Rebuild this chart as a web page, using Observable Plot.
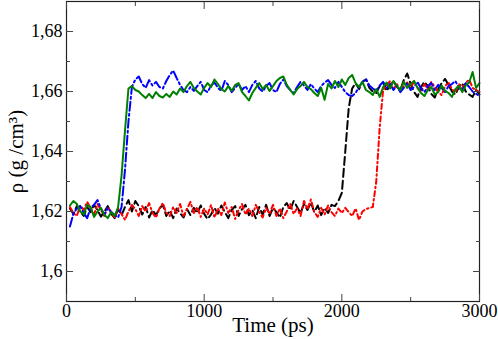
<!DOCTYPE html>
<html>
<head>
<meta charset="utf-8">
<script src="https://cdn.jsdelivr.net/npm/d3@7"></script>
<script src="https://cdn.jsdelivr.net/npm/@observablehq/plot@0.6"></script>
<style>
  html, body { margin: 0; padding: 0; background: white; }
</style>
</head>
<body>
<div id="chart"></div>
<script>
// Time axis sampling (ps)
const time = d3.range(25, 3001, 25);

const blackSeries = [
1.6210,1.6192,1.6218,1.6200,1.6185,1.6215,1.6198,1.6222,1.6205,1.6183,
1.6200,1.6218,1.6192,1.6178,1.6208,1.6188,1.6215,1.6238,1.6200,1.6235,
1.6218,1.6190,1.6215,1.6180,1.6205,1.6188,1.6210,1.6222,1.6185,1.6203,
1.6178,1.6210,1.6195,1.6180,1.6208,1.6188,1.6212,1.6195,1.6220,1.6192,
1.6175,1.6190,1.6212,1.6193,1.6220,1.6198,1.6178,1.6205,1.6218,1.6185,
1.6208,1.6222,1.6188,1.6205,1.6178,1.6215,1.6190,1.6222,1.6185,1.6212,
1.6198,1.6180,1.6215,1.6228,1.6205,1.6235,1.6215,1.6195,1.6225,1.6205,
1.6230,1.6198,1.6220,1.6188,1.6212,1.6195,1.6222,1.6218,1.6235,1.6262,
1.6400,1.6545,1.6610,1.6628,1.6608,1.6632,1.6640,1.6612,1.6600,1.6595,
1.6618,1.6630,1.6602,1.6620,1.6635,1.6615,1.6605,1.6638,1.6660,1.6625,
1.6598,1.6582,1.6615,1.6632,1.6618,1.6592,1.6580,1.6608,1.6628,1.6642,
1.6622,1.6600,1.6590,1.6615,1.6628,1.6600,1.6590,1.6582,1.6605,1.6590];

const redSeries = [
1.6215,1.6195,1.6185,1.6220,1.6205,1.6232,1.6212,1.6190,1.6225,1.6205,
1.6185,1.6215,1.6198,1.6178,1.6210,1.6192,1.6172,1.6200,1.6222,1.6208,
1.6185,1.6218,1.6200,1.6228,1.6195,1.6180,1.6210,1.6228,1.6195,1.6185,
1.6215,1.6195,1.6225,1.6185,1.6208,1.6232,1.6195,1.6215,1.6182,1.6210,
1.6190,1.6222,1.6180,1.6210,1.6188,1.6230,1.6195,1.6215,1.6175,1.6205,
1.6225,1.6190,1.6210,1.6185,1.6222,1.6198,1.6180,1.6212,1.6192,1.6222,
1.6185,1.6210,1.6178,1.6200,1.6225,1.6192,1.6210,1.6185,1.6235,1.6208,
1.6240,1.6198,1.6182,1.6212,1.6190,1.6220,1.6198,1.6185,1.6210,1.6195,
1.6212,1.6198,1.6185,1.6210,1.6172,1.6200,1.6208,1.6212,1.6215,1.6300,
1.6480,1.6605,1.6620,1.6635,1.6608,1.6625,1.6600,1.6618,1.6630,1.6610,
1.6635,1.6612,1.6598,1.6625,1.6605,1.6632,1.6615,1.6598,1.6588,1.6618,
1.6630,1.6608,1.6598,1.6625,1.6612,1.6628,1.6640,1.6612,1.6605,1.6598];

const blueSeries = [
1.6150,1.6192,1.6210,1.6218,1.6195,1.6178,1.6212,1.6222,1.6238,1.6210,
1.6190,1.6212,1.6198,1.6188,1.6180,1.6215,1.6340,1.6500,1.6615,1.6640,
1.6650,1.6625,1.6612,1.6638,1.6620,1.6632,1.6615,1.6610,1.6635,1.6655,
1.6670,1.6645,1.6622,1.6605,1.6598,1.6615,1.6602,1.6618,1.6632,1.6605,
1.6598,1.6620,1.6630,1.6612,1.6602,1.6635,1.6622,1.6598,1.6612,1.6625,
1.6605,1.6618,1.6598,1.6622,1.6635,1.6610,1.6600,1.6618,1.6628,1.6605,
1.6598,1.6625,1.6640,1.6618,1.6605,1.6595,1.6615,1.6632,1.6620,1.6605,
1.6625,1.6610,1.6598,1.6618,1.6630,1.6638,1.6622,1.6612,1.6632,1.6615,
1.6598,1.6588,1.6585,1.6595,1.6615,1.6632,1.6642,1.6620,1.6610,1.6602,
1.6620,1.6632,1.6612,1.6625,1.6605,1.6620,1.6598,1.6612,1.6628,1.6605,
1.6615,1.6632,1.6610,1.6598,1.6618,1.6628,1.6605,1.6622,1.6612,1.6598,
1.6618,1.6625,1.6635,1.6612,1.6605,1.6628,1.6615,1.6600,1.6592,1.6585];

const greenSeries = [
1.6220,1.6235,1.6225,1.6200,1.6190,1.6222,1.6215,1.6182,1.6200,1.6212,
1.6188,1.6178,1.6198,1.6185,1.6215,1.6320,1.6470,1.6610,1.6618,1.6605,
1.6600,1.6588,1.6578,1.6592,1.6578,1.6598,1.6585,1.6580,1.6592,1.6582,
1.6600,1.6590,1.6610,1.6598,1.6618,1.6632,1.6612,1.6600,1.6590,1.6612,
1.6628,1.6615,1.6640,1.6625,1.6608,1.6600,1.6618,1.6602,1.6622,1.6628,
1.6598,1.6585,1.6570,1.6595,1.6612,1.6628,1.6608,1.6622,1.6602,1.6618,
1.6635,1.6645,1.6650,1.6622,1.6605,1.6590,1.6608,1.6618,1.6632,1.6615,
1.6608,1.6595,1.6585,1.6612,1.6572,1.6625,1.6610,1.6635,1.6615,1.6640,
1.6622,1.6645,1.6655,1.6628,1.6615,1.6632,1.6605,1.6598,1.6588,1.6608,
1.6582,1.6615,1.6630,1.6610,1.6635,1.6618,1.6605,1.6632,1.6612,1.6625,
1.6635,1.6612,1.6595,1.6585,1.6605,1.6615,1.6590,1.6598,1.6620,1.6602,
1.6595,1.6582,1.6608,1.6618,1.6598,1.6620,1.6630,1.6665,1.6612,1.6628];

const xMajorTicks = [0, 1000, 2000, 3000];
const xMinorTicks = [500, 1500, 2500];
const yMajorTicks = [1.60, 1.62, 1.64, 1.66, 1.68];
const yMinorTicks = [1.61, 1.63, 1.65, 1.67];

const seriesDefs = [
  {name: "black", values: blackSeries, color: "#000000", dash: "8,4"},
  {name: "red", values: redSeries, color: "#ff0000", dash: "5,3,1.5,3"},
  {name: "blue", values: blueSeries, color: "#0000ff", dash: "9,3,2,3"},
  {name: "green", values: greenSeries, color: "#008000", dash: null}
];

const fmt = d => String(d).replace(".", ",");
const blank = () => "";

const lineMarks = seriesDefs.map(s => Plot.line(
  s.values.map((v, i) => ({t: time[i], rho: v})),
  {x: "t", y: "rho", stroke: s.color, strokeWidth: 2, strokeDasharray: s.dash || undefined, curve: "linear"}
));

const chart = Plot.plot({
  width: 498,
  height: 339,
  marginLeft: 66,
  marginRight: 19,
  marginTop: 1,
  marginBottom: 38,
  style: {fontFamily: "'Liberation Serif', 'Times New Roman', serif", fontSize: "18px", background: "white", color: "black"},
  x: {domain: [0, 3000]},
  y: {domain: [1.59, 1.69]},
  marks: [
    ...lineMarks,
    Plot.frame({stroke: "#222", strokeWidth: 1.2}),
    // tick labels
    Plot.axisX(xMajorTicks, {anchor: "bottom", tickSize: 0, tickPadding: 3, tickFormat: d => String(d), label: null}),
    Plot.axisY(yMajorTicks, {anchor: "left", tickSize: 0, tickPadding: 4, tickFormat: fmt, label: null}),
    // axis titles
    Plot.axisX([], {anchor: "bottom", tickSize: 0, label: "Time (ps)", labelAnchor: "center", labelOffset: 30, labelArrow: "none", fontSize: 21, fontWeight: "normal"}),
    Plot.axisY([], {anchor: "left", tickSize: 0, label: "ρ (g /cm³)", labelAnchor: "center", labelOffset: 58, labelArrow: "none", fontSize: 21, fontWeight: "normal"}),
    // inward major ticks
    Plot.axisX(xMajorTicks, {anchor: "bottom", tickSize: 7, dy: -7, tickFormat: blank, label: null, stroke: "#444"}),
    Plot.axisX(xMajorTicks, {anchor: "top", tickSize: 7, dy: 7, tickFormat: blank, label: null, stroke: "#444"}),
    Plot.axisY(yMajorTicks, {anchor: "left", tickSize: 7, dx: 7, tickFormat: blank, label: null, stroke: "#444"}),
    Plot.axisY(yMajorTicks, {anchor: "right", tickSize: 7, dx: -7, tickFormat: blank, label: null, stroke: "#444"}),
    // inward minor ticks
    Plot.axisX(xMinorTicks, {anchor: "bottom", tickSize: 4, dy: -4, tickFormat: blank, label: null, stroke: "#444"}),
    Plot.axisX(xMinorTicks, {anchor: "top", tickSize: 4, dy: 4, tickFormat: blank, label: null, stroke: "#444"}),
    Plot.axisY(yMinorTicks, {anchor: "left", tickSize: 4, dx: 4, tickFormat: blank, label: null, stroke: "#444"}),
    Plot.axisY(yMinorTicks, {anchor: "right", tickSize: 4, dx: -4, tickFormat: blank, label: null, stroke: "#444"})
  ]
});

document.getElementById("chart").appendChild(chart);
</script>
</body>
</html>
